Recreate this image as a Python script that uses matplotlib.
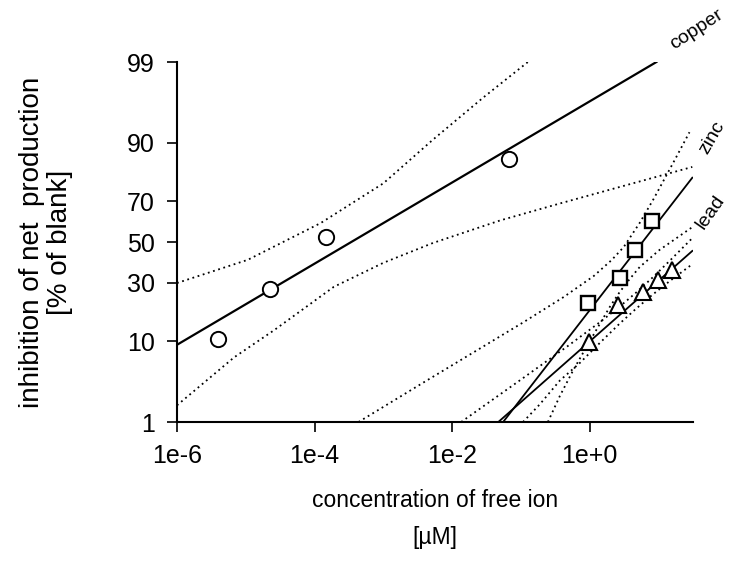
import numpy as np
import matplotlib
matplotlib.use('Agg')
import matplotlib.pyplot as plt
from matplotlib.ticker import FixedLocator, NullLocator
from statistics import NormalDist

plt.rcParams['font.family'] = ['Liberation Sans', 'DejaVu Sans']

# measured points: concentration of free ion [uM] vs inhibition [% of blank]
cu_x = [3.9e-6, 2.24e-5, 1.48e-4, 0.0676]
cu_y = [10.5, 27.2, 52.6, 85.8]
zn_x = [0.93, 2.72, 4.47, 8.13]
zn_y = [21.5, 32.1, 46.0, 60.7]
pb_x = [0.98, 2.57, 5.89, 9.77, 15.5]
pb_y = [9.8, 20.8, 25.9, 31.2, 35.9]

# fitted lines (end points)
cu_fit_x = [1e-6, 9.3]
cu_fit_y = [9.2, 99.0]
zn_fit_x = [0.055, 30.9]
zn_fit_y = [1.0, 79.7]
pb_fit_x = [0.0468, 30.9]
pb_fit_y = [1.0, 45.4]

# confidence limits (dotted)
cu_hi_x = [1e-6, 1.07e-5, 1.23e-4, 1e-3, 5.25e-3, 0.0282, 0.126]
cu_hi_y = [29.8, 40.9, 59.7, 77.6, 90.7, 96.9, 99.0]
cu_lo_x = [1e-6, 6.76e-6, 2.57e-5, 1.9e-4, 1e-3, 5.25e-3, 0.050, 0.37, 30.9]
cu_lo_y = [1.74, 6.8, 12.7, 28.1, 39.4, 49.5, 61.0, 69.1, 83.4]
zn_hi_x = [4.35e-4, 3.93e-3, 0.0291, 0.110, 0.420, 1.14, 2.08, 3.11, 5.30, 8.46, 16.5, 28.1]
zn_hi_y = [1.0, 3.52, 8.95, 15.06, 23.9, 33.0, 40.8, 47.4, 59.7, 71.1, 84.9, 92.2]
zn_lo_x = [0.246, 0.367, 0.567, 0.875, 1.40, 1.95, 2.72, 3.80, 5.30, 10.3, 31.1]
zn_lo_y = [1.0, 2.33, 4.78, 8.53, 14.5, 20.05, 25.9, 31.6, 37.3, 45.9, 57.7]
pb_hi_x = [0.0135, 0.0255, 0.0968, 0.480, 1.40, 2.72, 4.64, 7.92, 14.4, 31.1]
pb_hi_y = [1.0, 1.57, 3.70, 8.95, 15.0, 20.2, 25.5, 31.9, 40.3, 52.1]
pb_lo_x = [0.107, 0.188, 0.367, 0.716, 1.40, 2.72, 4.64, 7.92, 14.4, 31.1]
pb_lo_y = [1.0, 1.80, 3.67, 5.90, 9.61, 14.6, 19.3, 24.5, 30.6, 38.8]

y_ticks = [1, 10, 30, 50, 70, 90, 99]
x_ticks = [1e-6, 1e-4, 1e-2, 1e0]
x_ticklabels = ['1e-6', '1e-4', '1e-2', '1e+0']

_nd = NormalDist()


def probit(p):
    p = np.asarray(p, dtype=float)
    out = np.full(p.shape, np.nan)
    ok = np.isfinite(p)
    pc = np.clip(p[ok] / 100.0, 1e-9, 1 - 1e-9)
    out[ok] = [_nd.inv_cdf(v) for v in pc]
    return out


def probit_inv(z):
    z = np.asarray(z, dtype=float)
    out = np.full(z.shape, np.nan)
    ok = np.isfinite(z)
    out[ok] = [_nd.cdf(v) * 100.0 for v in z[ok]]
    return out


fig = plt.figure(figsize=(7.32, 5.71), dpi=100)
ax = fig.add_axes([177 / 732, 1 - 422 / 571, (693 - 177) / 732, (422 - 62) / 571])
ax.set_xscale('log')
ax.set_yscale('function', functions=(probit, probit_inv))

dot = dict(color='black', lw=1.3, linestyle=(0, (1, 2.0)))
for bx, by in [(cu_hi_x, cu_hi_y), (cu_lo_x, cu_lo_y), (zn_hi_x, zn_hi_y),
               (zn_lo_x, zn_lo_y), (pb_hi_x, pb_hi_y), (pb_lo_x, pb_lo_y)]:
    ax.plot(bx, by, **dot)

ax.plot(cu_fit_x, cu_fit_y, color='black', lw=1.6)
ax.plot(zn_fit_x, zn_fit_y, color='black', lw=1.3)
ax.plot(pb_fit_x, pb_fit_y, color='black', lw=1.3)

ax.plot(cu_x, cu_y, 'o', ms=11, mfc='white', mec='black', mew=1.4, zorder=5)
ax.plot(zn_x, zn_y, 's', ms=10, mfc='white', mec='black', mew=1.7, zorder=5)
ax.plot(pb_x, pb_y, '^', ms=11, mfc='white', mec='black', mew=1.5, zorder=5)

ax.set_xlim(1e-6, 10 ** 1.5)
ax.set_ylim(1, 99)
ax.xaxis.set_major_locator(FixedLocator(x_ticks))
ax.xaxis.set_minor_locator(NullLocator())
ax.set_xticklabels(x_ticklabels)
ax.yaxis.set_major_locator(FixedLocator(y_ticks))
ax.yaxis.set_minor_locator(NullLocator())
ax.set_yticklabels([str(t) for t in y_ticks])

for s in ['top', 'right']:
    ax.spines[s].set_visible(False)
for s in ['left', 'bottom']:
    ax.spines[s].set_linewidth(1.5)
ax.tick_params(direction='out', length=7, width=1.2)
ax.tick_params(axis='y', pad=9, labelsize=18)
ax.tick_params(axis='x', pad=9, labelsize=18)

fig.text(46 / 732, 1 - 242 / 571, 'inhibition of net  production\n[% of blank]',
         rotation=90, ha='center', va='center', multialignment='center',
         fontsize=20, linespacing=1.1)
fig.text(435 / 732, 1 - 519 / 571, 'concentration of free ion\n[µM]',
         ha='center', va='center', multialignment='center', fontsize=16.5, linespacing=1.8)

fig.text(697 / 732, 1 - 30 / 571, 'copper', rotation=33, ha='center', va='center', fontsize=14)
fig.text(712 / 732, 1 - 138 / 571, 'zinc', rotation=60, ha='center', va='center', fontsize=14)
fig.text(711 / 732, 1 - 212 / 571, 'lead', rotation=55, ha='center', va='center', fontsize=14)

fig.savefig('out.png', dpi=100)
